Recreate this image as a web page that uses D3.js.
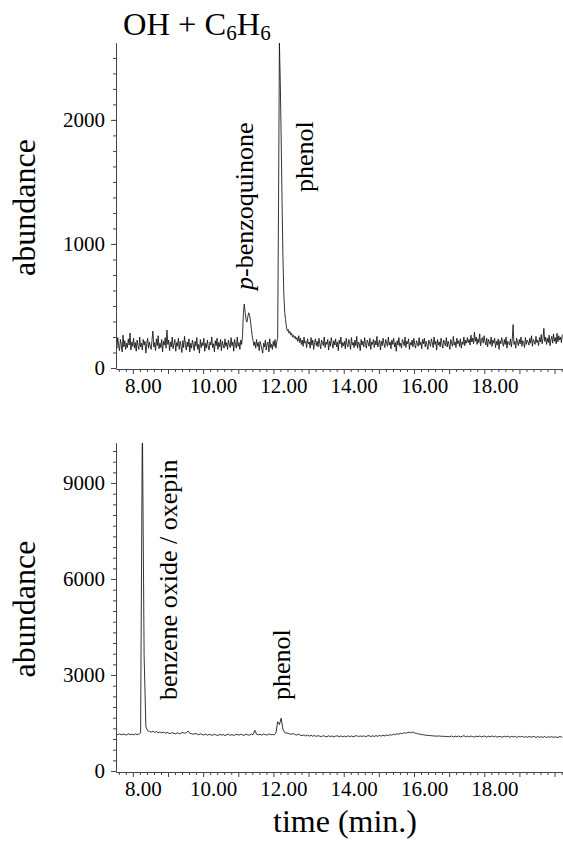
<!DOCTYPE html>
<html>
<head>
<meta charset="utf-8">
<script src="https://cdn.jsdelivr.net/npm/d3@7"></script>
<style>
  html, body { margin: 0; padding: 0; background: #fff; }
  svg { display: block; }
</style>
</head>
<body>
<svg id="chart" width="563" height="841"></svg>
<script>
// ---- data ----
const topScanStart = 7.52;    // min
const topScanStep = 0.025;    // min between samples
const bottomScanStart = 7.52; // min
const bottomScanStep = 0.05;  // min between samples

const topAbundance = [
  215,160,245,175,140,230,190,130,265,170,
  220,150,200,165,235,185,282,145,210,175,
  240,160,205,135,225,180,150,250,170,200,
  145,230,185,215,120,195,240,160,210,175,
  150,225,298,170,205,140,235,180,260,155,
  200,165,230,130,215,185,245,160,306,190,
  225,140,210,170,250,155,195,230,135,205,
  175,240,150,215,180,125,220,165,255,190,
  145,210,170,235,130,200,160,225,185,140,
  215,175,245,150,190,120,230,165,205,180,
  240,135,200,160,225,175,145,210,185,250,
  165,195,130,220,180,240,150,205,170,230,
  140,215,185,160,235,175,205,150,225,190,
  165,245,180,210,135,230,190,160,250,175,
  205,150,225,190,260,440,515,450,390,370,
  410,445,430,380,320,260,220,180,210,160,
  230,175,205,140,215,185,150,120,200,170,
  225,145,195,210,130,235,165,190,150,215,
  175,230,160,210,240,1300,2620,2300,1860,1350,
  900,600,450,390,330,300,310,280,295,265,
  280,250,265,240,255,230,245,215,260,205,
  240,190,225,175,250,200,215,165,235,195,
  210,160,245,185,225,150,205,235,180,215,
  170,240,195,155,225,205,180,250,165,210,
  190,230,145,215,175,245,200,160,220,185,
  235,170,210,140,225,195,250,165,205,180,
  215,155,240,190,170,230,200,150,245,185,
  205,165,225,180,255,160,210,195,140,230,
  185,215,170,245,195,160,225,205,175,240,
  150,210,190,230,165,220,185,255,170,200,
  225,145,215,180,240,195,165,230,200,175,
  250,185,210,155,225,190,240,170,205,135,
  220,185,245,175,200,160,230,210,180,250,
  165,215,195,235,150,205,185,225,170,240,
  190,160,220,200,175,245,185,210,155,230,
  195,240,170,215,185,150,225,200,175,235,
  205,165,250,190,215,145,230,185,210,170,
  240,195,160,225,205,180,245,170,215,190,
  150,230,200,175,255,185,210,165,240,195,
  220,175,235,160,210,190,250,180,225,200,
  245,205,230,185,265,210,240,195,290,215,
  250,190,235,205,275,180,225,245,200,260,
  215,185,240,170,230,210,190,250,175,225,
  200,240,165,215,185,235,150,220,195,245,
  205,175,230,190,250,160,215,200,185,235,
  170,225,350,190,215,160,240,205,180,230,
  195,250,175,220,205,165,245,190,225,210,
  185,240,200,260,175,230,215,190,255,205,
  225,180,245,210,270,195,235,320,215,250,
  190,240,205,265,180,230,255,200,275,215,
  245,195,280,210,260,225,250,205,270
];

const bottomAbundance = [
  1165,1135,1160,1130,1155,1140,1125,1165,1135,1150,
  1130,1160,1135,1150,1190,11000,3600,1380,1260,1235,
  1215,1245,1205,1230,1195,1220,1190,1215,1180,1205,
  1185,1170,1200,1175,1165,1195,1160,1185,1200,1180,
  1195,1250,1175,1165,1150,1170,1160,1135,1160,1140,
  1125,1155,1120,1145,1130,1115,1150,1125,1110,1145,
  1120,1140,1105,1135,1150,1115,1140,1110,1135,1145,
  1120,1150,1125,1115,1155,1130,1120,1150,1140,1270,
  1150,1130,1150,1120,1155,1135,1125,1160,1135,1140,
  1130,1180,1540,1450,1650,1300,1200,1185,1175,1155,
  1150,1170,1135,1125,1150,1115,1105,1130,1095,1120,
  1090,1115,1085,1110,1080,1105,1085,1075,1105,1080,
  1070,1100,1075,1095,1065,1090,1100,1070,1095,1075,
  1090,1065,1100,1075,1095,1070,1090,1105,1075,1095,
  1080,1100,1070,1095,1105,1075,1100,1080,1105,1085,
  1110,1090,1115,1095,1125,1105,1135,1120,1150,1135,
  1165,1150,1180,1165,1195,1180,1205,1215,1190,1220,
  1185,1180,1155,1155,1135,1135,1120,1115,1110,1105,
  1100,1095,1090,1090,1095,1085,1085,1080,1080,1075,
  1075,1095,1060,1090,1070,1095,1065,1085,1100,1070,
  1090,1065,1095,1075,1060,1090,1070,1095,1065,1085,
  1090,1060,1085,1070,1095,1065,1090,1055,1085,1070,
  1060,1085,1065,1090,1055,1080,1065,1085,1050,1080,
  1060,1085,1055,1075,1050,1080,1060,1065,1080,1045,
  1075,1055,1070,1050,1080,1045,1070,1055,1075,1050,
  1070,1045,1065,1075,1050
];

const xLabelValues = [8, 10, 12, 14, 16, 18];
const xLabels = ["8.00", "10.00", "12.00", "14.00", "16.00", "18.00"];
const topYLabelValues = [0, 1000, 2000];
const topYLabels = ["0", "1000", "2000"];
const bottomYLabelValues = [0, 3000, 6000, 9000];
const bottomYLabels = ["0", "3000", "6000", "9000"];

const topPeaks = [
  { ital: "p", rest: "-benzoquinone", x: 253, y: 290 },
  { ital: "", rest: "phenol", x: 313, y: 192 }
];
const bottomPeaks = [
  { ital: "", rest: "benzene oxide / oxepin", x: 177, y: 700 },
  { ital: "", rest: "phenol", x: 290, y: 700 }
];

// ---- drawing ----
const FONT = "'Liberation Serif', 'Times New Roman', Times, 'DejaVu Serif', serif";
const svg = d3.select("#chart").style("font-family", FONT);
svg.append("rect").attr("width", 563).attr("height", 841).attr("fill", "#fff");

const x = d3.scaleLinear().domain([7.52, 20.24]).range([116, 563]);

function panel(values, start, step, yMax, yTop, yZero, yLabVals, yLabs, minorStep, peaks, id) {
  const y = d3.scaleLinear().domain([0, yMax]).range([yZero, yTop]);
  const g = svg.append("g");

  g.append("clipPath").attr("id", id)
    .append("rect").attr("x", 116).attr("y", yTop).attr("width", 447).attr("height", yZero - yTop);

  const pts = values.map((v, i) => [start + i * step, v]);
  const line = d3.line().x(d => x(d[0])).y(d => y(d[1]));
  g.append("path")
    .datum(pts)
    .attr("clip-path", `url(#${id})`)
    .attr("fill", "none")
    .attr("stroke", "#111")
    .attr("stroke-width", 0.85)
    .attr("stroke-linejoin", "round")
    .attr("d", line);

  const minorT = d3.range(38, 102).filter(k => k % 5 !== 0).map(k => k / 5);
  const majorT = d3.range(8, 21);
  const axStyle = sel => {
    sel.select(".domain").attr("stroke", "#444").attr("stroke-width", 1);
    sel.selectAll(".tick line").attr("stroke", "#444").attr("stroke-width", 1);
  };
  g.append("g").attr("transform", `translate(0,${yZero + 1})`)
    .call(d3.axisBottom(x).tickValues(minorT).tickSize(3).tickSizeOuter(0).tickFormat(""))
    .call(axStyle);
  g.append("g").attr("transform", `translate(0,${yZero + 1})`)
    .call(d3.axisBottom(x).tickValues(majorT).tickSize(5).tickSizeOuter(0).tickFormat(""))
    .call(axStyle);
  const xl = g.append("g").attr("transform", `translate(0,${yZero + 1})`)
    .call(d3.axisBottom(x).tickValues(xLabelValues).tickSize(0).tickSizeOuter(0).tickPadding(9)
      .tickFormat((d, i) => xLabels[i]));
  xl.attr("font-family", null).attr("font-size", null);
  xl.select(".domain").remove();
  xl.selectAll("text").attr("dx", 10).style("font-size", "21px").style("font-family", FONT).attr("fill", "#000");

  const yMinor = d3.range(0, yMax + 1, minorStep);
  g.append("g").attr("transform", "translate(116,0)")
    .call(d3.axisLeft(y).tickValues(yMinor).tickSize(3).tickSizeOuter(0).tickFormat(""))
    .call(axStyle);
  const yl = g.append("g").attr("transform", "translate(116,0)")
    .call(d3.axisLeft(y).tickValues(yLabVals).tickSize(5).tickSizeOuter(0).tickPadding(6)
      .tickFormat((d, i) => yLabs[i]));
  yl.attr("font-family", null).attr("font-size", null);
  yl.call(axStyle);
  yl.selectAll("text").style("font-size", "21px").style("font-family", FONT).attr("fill", "#000");

  g.append("text")
    .attr("transform", `translate(35,${(yTop + yZero) / 2 + 2}) rotate(-90)`)
    .attr("text-anchor", "middle")
    .style("font-family", FONT).style("font-size", "32px")
    .text("abundance");

  peaks.forEach(p => {
    const t = g.append("text")
      .attr("transform", `translate(${p.x},${p.y}) rotate(-90)`)
      .style("font-family", FONT).style("font-size", "26px");
    if (p.ital) t.append("tspan").attr("font-style", "italic").text(p.ital);
    t.append("tspan").text(p.rest);
  });
  return y;
}

panel(topAbundance, topScanStart, topScanStep, 2620, 43, 368,
  topYLabelValues, topYLabels, 125, topPeaks, "clipTop");
panel(bottomAbundance, bottomScanStart, bottomScanStep, 10250, 443, 771,
  bottomYLabelValues, bottomYLabels, 1000 / 3, bottomPeaks, "clipBottom");

const title = svg.append("text").attr("x", 123).attr("y", 35)
  .style("font-family", FONT).style("font-size", "32.5px");
title.append("tspan").text("OH + C");
title.append("tspan").style("font-size", "21px").attr("dy", 5).text("6");
title.append("tspan").attr("dy", -5).text("H");
title.append("tspan").style("font-size", "21px").attr("dy", 5).text("6");

svg.append("text").attr("x", 345).attr("y", 832).attr("text-anchor", "middle")
  .style("font-family", FONT).style("font-size", "32px").text("time (min.)");
</script>
</body>
</html>
